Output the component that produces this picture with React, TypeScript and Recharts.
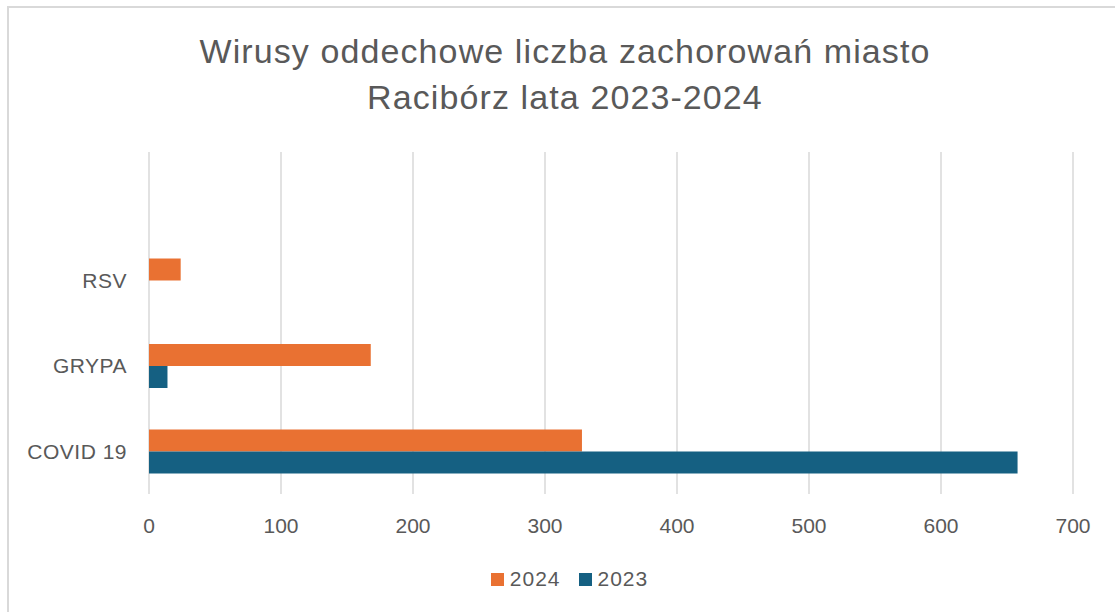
import React from "react";
import { BarChart, Bar, XAxis, YAxis, CartesianGrid, Legend } from "recharts";

const categories = ["", "RSV", "GRYPA", "COVID 19"];
const values2024 = [null, 24, 168, 328];
const values2023 = [null, null, 14, 658];
const xTicks = [0, 100, 200, 300, 400, 500, 600, 700];
const seriesNames = ["2024", "2023"];
const seriesColors = ["#E97132", "#156082"];
const titleLines = ["Wirusy oddechowe liczba zachorowań miasto", "Racibórz lata 2023-2024"];

const data = categories.map((name, i) => ({
  name,
  y2024: values2024[i],
  y2023: values2023[i],
}));

const FONT = "'Liberation Sans', Arial, sans-serif";
const TEXT = "#595959";

const LegendContent = () => (
  <div style={{ height: 24, paddingLeft: 24, display: "flex", justifyContent: "center", alignItems: "center", fontFamily: FONT, fontSize: 21, color: TEXT, letterSpacing: 1 }}>
    {seriesNames.map((n, i) => (
      <div key={n} style={{ display: "flex", alignItems: "center", marginRight: i === 0 ? 18 : 0 }}>
        <span style={{ display: "inline-block", width: 13, height: 13, background: seriesColors[i], marginRight: 6 }} />
        <span>{n}</span>
      </div>
    ))}
  </div>
);

export default function App() {
  return (
    <div style={{ position: "absolute", left: 0, top: 0, width: 1115, height: 612, background: "#fff", overflow: "hidden" }}>
      <div style={{ position: "absolute", left: 7, top: 6, width: 1120, height: 620, borderLeft: "2px solid #d9d9d9", borderTop: "2px solid #d9d9d9" }} />
      <svg width={1115} height={130} style={{ position: "absolute", left: 0, top: 0 }}>
        <text x={565} y={63} textAnchor="middle" fontFamily={FONT} fontSize={34} fill={TEXT} letterSpacing={1.1}>{titleLines[0]}</text>
        <text x={565} y={109} textAnchor="middle" fontFamily={FONT} fontSize={34} fill={TEXT} letterSpacing={1.1}>{titleLines[1]}</text>
      </svg>
      <div style={{ position: "absolute", left: 0, top: 0 }}>
        <BarChart
          width={1115}
          height={612}
          data={data}
          layout="vertical"
          margin={{ top: 152, right: 42, bottom: 0, left: 9 }}
          barGap={0}
          barSize={22}
        >
          <CartesianGrid horizontal={false} stroke="#d9d9d9" strokeWidth={1.5} />
          <XAxis
            type="number"
            domain={[0, 700]}
            ticks={xTicks}
            axisLine={false}
            tickLine={false}
            tickSize={0}
            tickMargin={24}
            height={94}
            tick={{ fill: TEXT, fontSize: 21, fontFamily: FONT }}
            interval={0}
          />
          <YAxis
            type="category"
            dataKey="name"
            width={140}
            axisLine={false}
            tickLine={false}
            tickSize={0}
            tickMargin={22}
            interval={0}
            tick={{ fill: TEXT, fontSize: 21, fontFamily: FONT, letterSpacing: 0.5 }}
          />
          <Legend content={<LegendContent />} verticalAlign="bottom" wrapperStyle={{ top: 567, left: 0, width: 1115, height: 24 }} />
          <Bar dataKey="y2024" name={seriesNames[0]} fill={seriesColors[0]} isAnimationActive={false} />
          <Bar dataKey="y2023" name={seriesNames[1]} fill={seriesColors[1]} isAnimationActive={false} />
        </BarChart>
      </div>
    </div>
  );
}
